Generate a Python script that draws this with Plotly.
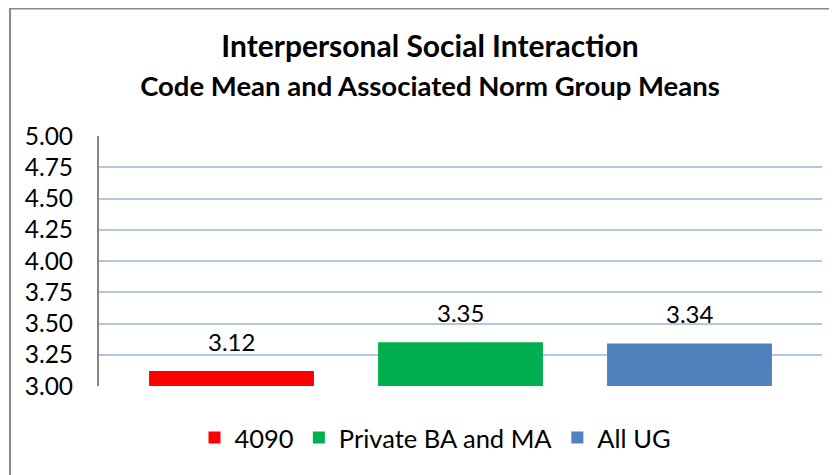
import plotly.graph_objects as go

categories = ["4090", "Private BA and MA", "All UG"]
values = [3.12, 3.35, 3.34]
colors = ["#FF0000", "#00B050", "#4F81BD"]
y_ticks = [3.00, 3.25, 3.50, 3.75, 4.00, 4.25, 4.50, 4.75, 5.00]

FONT = "Lato"
# page body has an 8px margin, so the figure is laid out 8px smaller
W, H = 829, 467
L, R, T, B = 91, 15, 128, 89
PW, PH = W - L - R, H - T - B

fig = go.Figure()
for i, (cat, val, col) in enumerate(zip(categories, values, colors)):
    fig.add_trace(go.Bar(x=[cat], y=[val], name=cat, marker=dict(color=col, line=dict(width=0))))
    fig.add_annotation(x=i, y=val, text=f"{val:.2f}", showarrow=False,
                       yanchor="middle", yshift=30, font=dict(family=FONT, size=24, color="#000000"))

fig.update_layout(
    width=W, height=H,
    margin=dict(l=L, r=R, t=T, b=B, autoexpand=False),
    paper_bgcolor="white", plot_bgcolor="white",
    bargap=0.28,
    title=dict(
        text="<b>Interpersonal Social Interaction</b><br>"
             "<span style='font-size:27.5px'><b>Code Mean and Associated Norm Group Means</b></span>",
        x=(422 - L) / PW, xanchor="center", xref="paper", yref="container", y=1 - 49 / H,
        yanchor="middle",
        font=dict(family=FONT, size=30, color="#000000"),
    ),
    showlegend=True,
    legend=dict(orientation="h", x=(427.5 - L) / PW, xanchor="center", yref="container",
                y=1 - 430 / H, yanchor="middle",
                font=dict(family=FONT, size=25.5, color="#000000"), traceorder="normal"),
    xaxis=dict(type="category", range=[-0.5786, 2.5786], showticklabels=False,
               showgrid=False, zeroline=False, showline=False, ticks="", automargin=False),
    yaxis=dict(range=[3, 5], tickvals=y_ticks, tickformat=".2f",
               showgrid=True, gridcolor="#B3C7E1", gridwidth=1.5,
               showline=True, linecolor="#868686", linewidth=2,
               zeroline=False, ticks="", ticklabelstandoff=19, automargin=False,
               tickfont=dict(family=FONT, size=24.5, color="#000000")),
    shapes=[dict(type="rect", xref="paper", yref="paper",
                 x0=(2 - L) / PW, x1=2, y0=-1, y1=(PH + T - 0.5) / PH,
                 line=dict(color="#898989", width=2), fillcolor="rgba(0,0,0,0)", layer="below")],
)

fig.write_html("out.html")
